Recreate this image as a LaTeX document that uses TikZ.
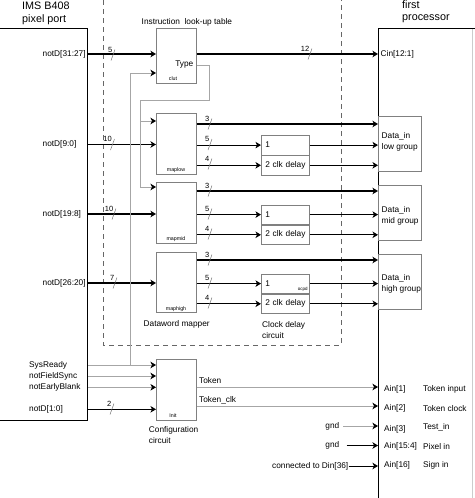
\documentclass[tikz,border=0pt]{standalone}
\usepackage{fontspec}
\setmainfont{Liberation Sans}
\usepackage{tikz}
\usetikzlibrary{calc,arrows.meta}

\tikzset{
  blk/.style={draw=black!50, line width=0.7pt, inner sep=0pt, anchor=north west},
  mapbox/.style={blk, minimum width=40, minimum height=61},
  dly/.style={blk, minimum width=48, minimum height=19.5, text width=40, inner xsep=4, align=left, font=\fontsize{8.3}{10}\selectfont},
  datain/.style={blk, minimum width=43, minimum height=55},
  bigbox/.style={draw, line width=1.1pt, inner sep=0pt},
  bus/.style={line width=1.1pt, -{Stealth[length=5.5pt, width=6.5pt, inset=1.5pt]}},
  ctl/.style={draw=black!35, line width=0.7pt, -{Stealth[length=5.5pt, width=6.5pt, inset=1.5pt, color=black]}},
  lbl/.style={font=\fontsize{8.3}{11}\selectfont, inner sep=0pt, align=left},
  ttl/.style={font=\fontsize{10.8}{13}\selectfont, inner sep=0pt},
  tag/.style={font=\fontsize{5.3}{6}\selectfont, inner sep=0pt},
  pics/buswidth/.style={code={
    \draw[black!55, line width=0.5pt] (-2,5.5) -- (2,-5.5);
    \node[font=\fontsize{7.5}{8}\selectfont, inner sep=0pt, anchor=south east] at (-0.5,-2.5) {#1};
  }}
}

\begin{document}
\begin{tikzpicture}[x=1pt, y=-1pt]
\useasboundingbox (0,0) rectangle (474,498);

% pixel port and processor
\node[bigbox, minimum width=120, minimum height=392, anchor=north east] (port) at (88,28) {};
\node[bigbox, minimum width=120, minimum height=500, anchor=north west] (proc) at (378,28) {};
\draw[black!20, line width=0.8pt] (472,29) -- (472,498);
\node[ttl, anchor=base west] (porttitle) at (22,9.5) {IMS B408};
\node[ttl, anchor=base west] (portsub) at (22,22.5) {pixel port};
\node[ttl, anchor=base west] (proctitle) at (402,8.5) {first};
\node[ttl, anchor=base west] (procsub) at (402,20) {processor};

% dashed frame
\draw[black!60, line width=0.9pt, dash pattern=on 5pt off 4pt] (103,0) -- (103,345) -- (341,345) -- (341,0);

% blocks
\node[blk, minimum width=40, minimum height=55] (clut) at (156,28) {};
\node[mapbox] (maplow) at (156,113) {};
\node[mapbox] (mapmid) at (156,182) {};
\node[mapbox, minimum height=60] (maphigh) at (156,252) {};
\node[mapbox] (init) at (156,359) {};
\node[tag] (cluttag) at (173,79) {clut};
\node[tag] (lowtag) at (176,170.3) {maplow};
\node[tag] (midtag) at (176,239.5) {mapmid};
\node[tag] (hightag) at (176,309) {maphigh};
\node[tag] (inittag) at (173,416) {Init};
\node[lbl, anchor=east] (type) at (193.5,65) {Type};

\node[dly] (dlow1) at (261,135) {1};
\node[dly, anchor=north] (dlow2) at (dlow1.south) {\mbox{2 clk delay}};
\node[dly] (dmid1) at (261,204.5) {1};
\node[dly, anchor=north] (dmid2) at (dmid1.south) {\mbox{2 clk delay}};
\node[dly] (dhigh1) at (261,273.5) {1};
\node[dly, anchor=north] (dhigh2) at (dhigh1.south) {\mbox{2 clk delay}};
\node[tag, font=\fontsize{4.5}{5}\selectfont, anchor=south east] (ocpd) at ([xshift=-1.8,yshift=1.6]dhigh1.south east) {ocpd};

\node[datain] (dinlow) at (378,116) {};
\node[datain] (dinmid) at (378,185) {};
\node[datain] (dinhigh) at (378,254.3) {};
\node[lbl, anchor=west] (dinlowtxt) at (381.5,142) {Data\_in\\low group};
\node[lbl, anchor=west] (dinmidtxt) at (381.5,215.5) {Data\_in\\mid group};
\node[lbl, anchor=west] (dinhightxt) at (381.5,283.8) {Data\_in\\high group};

% captions
\node[lbl, anchor=west] (luttxt) at (141.5,22.5) {Instruction~~look-up table};
\node[lbl] (mappertxt) at (176.7,324.3) {Dataword mapper};
\node[lbl, anchor=west] (delaytxt) at (262,330) {Clock delay\\circuit};
\node[lbl, anchor=west] (configtxt) at (148.7,434.7) {Configuration\\circuit};

% port signals
\node[lbl, anchor=west] (d3127) at (42.5,54) {notD[31:27]};
\node[lbl, anchor=west] (d90) at (42.5,144.5) {notD[9:0]};
\node[lbl, anchor=west] (d198) at (42.5,214) {notD[19:8]};
\node[lbl, anchor=west] (d2620) at (42.5,283) {notD[26:20]};
\node[lbl, anchor=west] (sysready) at (29,365) {SysReady};
\node[lbl, anchor=west] (fieldsync) at (29,376) {notFieldSync};
\node[lbl, anchor=west] (earlyblank) at (29,387.3) {notEarlyBlank};
\node[lbl, anchor=west] (d10) at (29,409.3) {notD[1:0]};

\draw[bus] (port.east|-d3127) -- (clut.west|-d3127);
\draw[bus] (port.east|-d90) -- (maplow.west|-d90);
\draw[bus] (port.east|-d198) -- (mapmid.west|-d198);
\draw[bus] (port.east|-d2620) -- (maphigh.west|-d2620);
\draw[ctl] (port.east|-sysready) -- (init.west|-sysready);
\draw[ctl] (port.east|-fieldsync) -- (init.west|-fieldsync);
\draw[ctl] (port.east|-earlyblank) -- (init.west|-earlyblank);
\draw[bus] (port.east|-d10) -- (init.west|-d10);

\coordinate (sysup) at (130,365);
\coordinate (clutin) at (150,73);
\draw[ctl] (sysup) |- (clutin-|clut.west);

% type select
\coordinate (typebend) at (209,100);
\coordinate (tsplit) at (140,121);
\coordinate (tmid) at (140,187);
\draw[ctl] (clut.east|-type) -| (typebend) -| (tmid) -- (tmid-|mapmid.west);
\draw[ctl] (tsplit) -- (tsplit-|maplow.west);

% outputs
\node[lbl, anchor=west] (cin) at (380.5,54.3) {Cin[12:1]};
\draw[bus] (clut.east|-d3127) -- (proc.west|-d3127);

\coordinate (ylow) at (0,124);
\coordinate (ymid) at (0,191);
\coordinate (yhigh) at (0,260);
\foreach \g in {low,mid,high}{
  \draw[bus] (y\g-|map\g.east) -- (y\g-|proc.west);
  \draw[bus] (d\g1.west-|map\g.east) -- (d\g1.west);
  \draw[bus] (d\g2.west-|map\g.east) -- (d\g2.west);
  \draw[bus] (d\g1.east) -- (d\g1.east-|proc.west);
  \draw[bus] (d\g2.east) -- (d\g2.east-|proc.west);
}

% bus widths
\pic at (113,55) {buswidth=5};
\pic at (310,54) {buswidth=12};
\pic at (112.5,144.5) {buswidth=10};
\pic at (114,214) {buswidth=10};
\pic at (115,283) {buswidth=7};
\pic at (112,409) {buswidth=2};
\foreach \y/\n in {124/3,144.5/5,164/4,191/3,214/5,234/4,260/3,283/5,303/4}
  \pic at (210,\y) {buswidth=\n};

% configuration outputs
\coordinate (ytok) at (0,387);
\coordinate (ytclk) at (0,406);
\draw[ctl] (ytok-|init.east) -- (ytok-|proc.west);
\draw[ctl] (ytclk-|init.east) -- (ytclk-|proc.west);
\node[lbl, anchor=base west] (token) at (199,383.5) {Token};
\node[lbl, anchor=base west] (tokenclk) at (199,402.5) {Token\_clk};

\node[lbl, anchor=east] (gnd1) at (339.5,426) {gnd};
\node[lbl, anchor=east] (gnd2) at (339.5,445.5) {gnd};
\node[lbl, anchor=east] (din36) at (348.5,466) {connected to Din[36]};
\draw[ctl] ([xshift=3.5]gnd1.east) -- (gnd1.east-|proc.west);
\draw[bus, line width=0.9pt] ([xshift=7]gnd2.east) -- (gnd2.east-|proc.west);
\draw[bus, line width=0.9pt] (din36.east) -- (din36.east-|proc.west);

% processor inputs
\node[lbl, anchor=west] (ain1) at (384,389.3) {Ain[1]};
\node[lbl, anchor=west] (ain2) at (384,408.3) {Ain[2]};
\node[lbl, anchor=west] (ain3) at (384,429) {Ain[3]};
\node[lbl, anchor=west] (ain4) at (384,446.7) {Ain[15:4]};
\node[lbl, anchor=west] (ain16) at (384,465.7) {Ain[16]};
\node[lbl, anchor=west] (ain1txt) at (423,389.3) {Token input};
\node[lbl, anchor=west] (ain2txt) at (423,408.3) {Token clock};
\node[lbl, anchor=west] (ain3txt) at (423,427) {Test\_in};
\node[lbl, anchor=west] (ain4txt) at (423,446.3) {Pixel in};
\node[lbl, anchor=west] (ain16txt) at (423,465.3) {Sign in};
\end{tikzpicture}
\end{document}
